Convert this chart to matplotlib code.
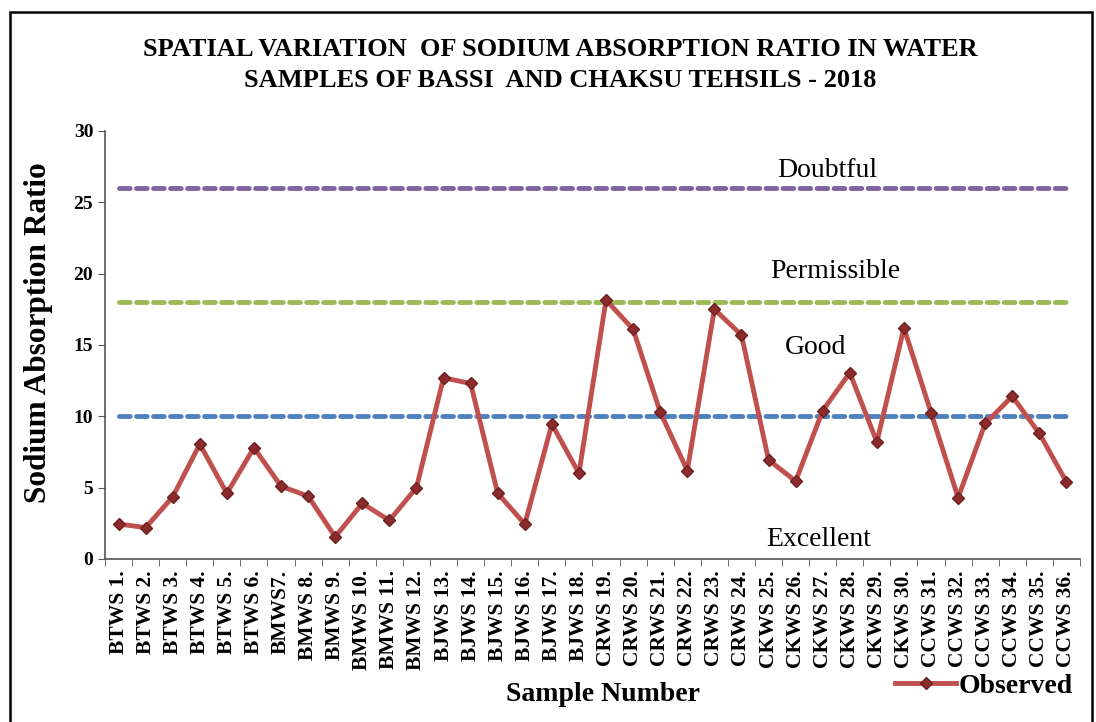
import numpy as np
import matplotlib.pyplot as plt
from matplotlib.patches import Rectangle

plt.rcParams['font.family'] = ['Liberation Serif', 'DejaVu Serif']

samples = ['BTWS 1.', 'BTWS 2.', 'BTWS 3.', 'BTWS 4.', 'BTWS 5.', 'BTWS 6.',
           'BMWS7.', 'BMWS 8.', 'BMWS 9.', 'BMWS 10.', 'BMWS 11.', 'BMWS 12.',
           'BJWS 13.', 'BJWS 14.', 'BJWS 15.', 'BJWS 16.', 'BJWS 17.', 'BJWS 18.',
           'CRWS 19.', 'CRWS 20.', 'CRWS 21.', 'CRWS 22.', 'CRWS 23.', 'CRWS 24.',
           'CKWS 25.', 'CKWS 26.', 'CKWS 27.', 'CKWS 28.', 'CKWS 29.', 'CKWS 30.',
           'CCWS 31.', 'CCWS 32.', 'CCWS 33.', 'CCWS 34.', 'CCWS 35.', 'CCWS 36.']
observed = [2.45, 2.2, 4.35, 8.05, 4.6, 7.8, 5.1, 4.4, 1.55, 3.9, 2.7, 5.0,
            12.7, 12.3, 4.6, 2.45, 9.45, 6.0, 18.15, 16.1, 10.3, 6.2, 17.5, 15.7,
            6.95, 5.45, 10.4, 13.05, 8.2, 16.2, 10.25, 4.3, 9.5, 11.4, 8.8, 5.4]
doubtful = [26] * 36
permissible = [18] * 36
good = [10] * 36

fig = plt.figure(figsize=(10.96, 7.22), dpi=100)
fig.patches.append(Rectangle((0.009, -0.01), 0.987, 0.993, transform=fig.transFigure,
                             fill=False, edgecolor='black', linewidth=1.8))
ax = fig.add_axes([0.0958, 0.2258, 0.8896, 0.5928])

x = np.arange(len(samples))
dash = (0, (2.2, 1.3))
ax.plot(x, doubtful, color='#8064A2', lw=3.5, ls=dash, dash_capstyle='round')
ax.plot(x, permissible, color='#9BBB59', lw=3.5, ls=dash, dash_capstyle='round')
ax.plot(x, good, color='#4F81BD', lw=3.5, ls=dash, dash_capstyle='round')
ax.plot(x, observed, color='#C0504D', lw=3.5, marker='D', markersize=6,
        markerfacecolor='#8B2B2B', markeredgecolor='#6E1F1F', label='Observed')

ax.set_xlim(-0.5, 35.5)
ax.set_ylim(0, 30)
ax.set_yticks(range(0, 31, 5))
ax.set_xticks(x)
ax.set_xticklabels(samples, rotation=90, fontsize=15.5, fontweight='bold')
ax.set_xticks(np.arange(-0.5, 36, 1), minor=True)
ax.tick_params(axis='x', which='major', length=0, pad=8)
ax.tick_params(axis='x', which='minor', length=5, color='#555555')
ax.tick_params(axis='y', length=5, color='#555555', labelsize=14)
for lbl in ax.get_yticklabels():
    lbl.set_fontweight('bold')
for s in ['top', 'right']:
    ax.spines[s].set_visible(False)
for s in ['left', 'bottom']:
    ax.spines[s].set_color('#555555')
    ax.spines[s].set_linewidth(1.2)

# zone labels
ax.text(26.15, 26.75, 'Doubtful', fontsize=20, ha='center')
ax.text(26.45, 19.7, 'Permissible', fontsize=20, ha='center')
ax.text(25.75, 14.35, 'Good', fontsize=20, ha='center')
ax.text(25.85, 0.9, 'Excellent', fontsize=20, ha='center')

ax.set_ylabel('Sodium Absorption Ratio', fontsize=22.5, fontweight='bold')
ax.yaxis.set_label_coords(-0.053, 0.53)
fig.text(0.55, 0.038, 'Sample Number', fontsize=20, fontweight='bold', ha='center', va='center')
fig.text(0.511, 0.91, 'SPATIAL VARIATION  OF SODIUM ABSORPTION RATIO IN WATER\nSAMPLES OF BASSI  AND CHAKSU TEHSILS - 2018',
         fontsize=19, fontweight='bold', ha='center', va='center', linespacing=1.4)

fig.legend(loc='center', bbox_to_anchor=(0.898, 0.05), frameon=False,
           prop={'size': 20, 'weight': 'bold'}, handlelength=2.2, handletextpad=0.1)

fig.savefig('out.png', dpi=100)
